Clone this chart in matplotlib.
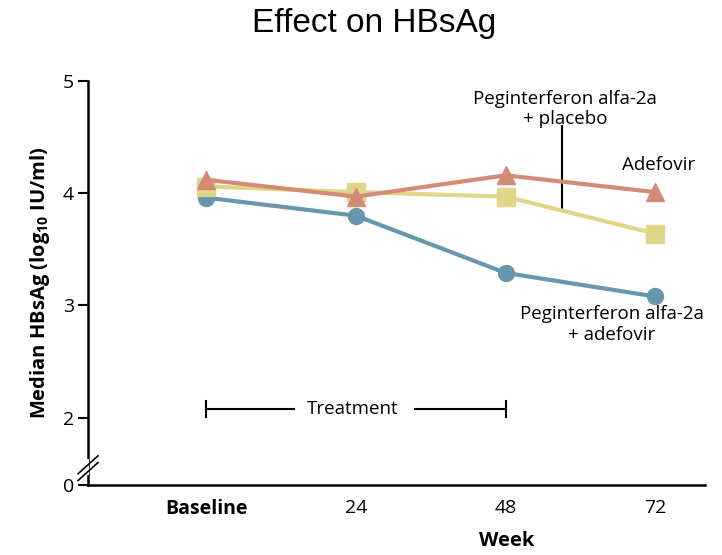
import matplotlib.pyplot as plt
import numpy as np

# Data
weeks = [0, 24, 48, 72]
week_labels = ['Baseline', '24', '48', '72']
peg_adefovir = [3.96, 3.80, 3.29, 3.08]
peg_placebo = [4.06, 4.01, 3.97, 3.64]
adefovir = [4.12, 3.97, 4.16, 4.01]

y_ticks = [1.4, 2, 3, 4, 5]          # 1.4 is drawn as the broken "0"
y_tick_labels = ['0', '2', '3', '4', '5']

blue = '#6896ac'
yellow = '#e0d68a'
red = '#d48b76'

plt.rcParams['font.family'] = ['Open Sans', 'DejaVu Sans']

fig = plt.figure(figsize=(7.22, 5.55), dpi=100)
ax = fig.add_axes([0.1219, 0.1261, 0.8546, 0.7279])

ax.plot(weeks, peg_adefovir, color=blue, lw=3, marker='o', ms=11.5, zorder=3)
ax.plot(weeks, peg_placebo, color=yellow, lw=3, marker='s', ms=12.5, zorder=4)
ax.plot(weeks, adefovir, color=red, lw=3, marker='^', ms=13.5, zorder=5)

ax.set_xlim(-19, 80)
ax.set_ylim(1.4, 5.0)
ax.set_xticks(weeks)
ax.set_xticklabels(week_labels, fontsize=14)
ax.get_xticklabels()[0].set_fontweight('bold')
ax.tick_params(axis='x', length=0, pad=10)
ax.set_yticks(y_ticks)
ax.set_yticklabels(y_tick_labels, fontsize=14)
ax.tick_params(axis='y', length=7, width=1.5, direction='out', pad=3)

for side in ['top', 'right']:
    ax.spines[side].set_visible(False)
for side in ['left', 'bottom']:
    ax.spines[side].set_linewidth(1.8)

ax.set_ylabel(r'Median HBsAg (log$_{\mathregular{10}}$ IU/ml)', fontsize=14.5,
              fontweight='bold', labelpad=8)
ax.set_xlabel('Week', fontsize=14.5, fontweight='bold')
ax.xaxis.set_label_coords(0.678, -0.115)

# axis break marks
for dy in [-0.03, 0.03]:
    ax.plot([-20.6, -17.4], [1.55 + dy - 0.08, 1.55 + dy + 0.08], color='black',
            lw=1.2, clip_on=False, zorder=6)
ax.plot([-19, -19], [1.50, 1.62], color='white', lw=1.5, clip_on=False, zorder=5)

# Treatment bracket
ty = 2.08
ax.plot([0, 14], [ty, ty], color='black', lw=1.5)
ax.plot([33.5, 48], [ty, ty], color='black', lw=1.5)
ax.plot([0, 0], [ty - 0.07, ty + 0.07], color='black', lw=1.5)
ax.plot([48, 48], [ty - 0.07, ty + 0.07], color='black', lw=1.5)
ax.text(23.5, ty, 'Treatment', ha='center', va='center', fontsize=13.5)

# series labels
ax.text(57.5, 4.75, 'Peginterferon alfa-2a\n+ placebo', ha='center', va='center',
        multialignment='center', fontsize=13.5, linespacing=1.15)
ax.plot([57, 57], [4.6, 3.84], color='black', lw=1.5)
ax.text(72.5, 4.25, 'Adefovir', ha='center', va='center', fontsize=13.5)
ax.text(65, 2.83, 'Peginterferon alfa-2a\n+ adefovir', ha='center', va='center',
        multialignment='center', fontsize=13.5, linespacing=1.15)

fig.text(0.518, 0.958, 'Effect on HBsAg', ha='center', va='center', fontsize=24,
         family=['Liberation Sans', 'DejaVu Sans'])

fig.savefig('out.png', dpi=100)
